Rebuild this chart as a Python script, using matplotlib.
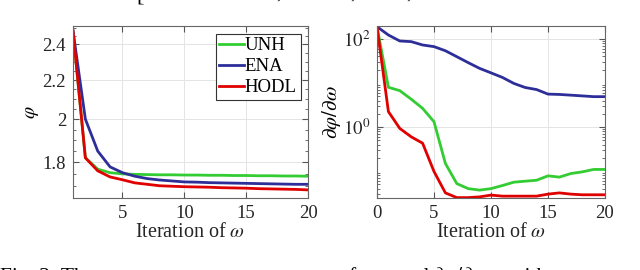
import matplotlib
matplotlib.use("Agg")
import matplotlib.pyplot as plt
from matplotlib.ticker import FixedLocator, FixedFormatter, LogLocator, NullFormatter, MultipleLocator

plt.rcParams["font.family"] = ["Liberation Serif", "DejaVu Serif"]
plt.rcParams["mathtext.fontset"] = "stix"

# left panel: phi vs iteration (1..20)
it_left = list(range(1, 21))
phi_unh = [2.48, 1.82, 1.77, 1.755, 1.75, 1.748, 1.747, 1.746, 1.746, 1.745,
           1.745, 1.744, 1.744, 1.743, 1.743, 1.742, 1.742, 1.741, 1.741, 1.74]
phi_ena = [2.48, 2.00, 1.85, 1.78, 1.755, 1.74, 1.73, 1.724, 1.72, 1.716,
           1.715, 1.713, 1.712, 1.711, 1.71, 1.709, 1.708, 1.707, 1.706, 1.706]
phi_hodl = [2.48, 1.82, 1.763, 1.737, 1.725, 1.712, 1.706, 1.70, 1.698, 1.696,
            1.695, 1.694, 1.692, 1.691, 1.69, 1.688, 1.687, 1.686, 1.685, 1.683]

# right panel: d phi / d omega vs iteration (0..20)
it_right = list(range(0, 21))
grad_unh = [190, 8.0, 6.7, 4.3, 2.66, 1.32, 0.149, 0.052, 0.040, 0.037, 0.040,
            0.047, 0.056, 0.059, 0.062, 0.078, 0.073, 0.088, 0.096, 0.109, 0.109]
grad_ena = [190, 123, 90, 87, 73, 67, 54, 39.6, 29, 21.5, 17,
            13.4, 9.8, 7.9, 7.1, 5.6, 5.5, 5.3, 5.1, 4.9, 4.9]
grad_hodl = [190, 2.24, 0.93, 0.60, 0.43, 0.098, 0.032, 0.025, 0.025, 0.026, 0.0285,
             0.027, 0.027, 0.027, 0.027, 0.030, 0.032, 0.030, 0.029, 0.029, 0.029]

labels = ["UNH", "ENA", "HODL"]
colors = ["#33cc33", "#2e2e99", "#e00000"]

# cropped caption fragments (only their tops show in the picture)
caption_parts = ["Fig. 2: The convergence curves", r"of $\varphi$", "and",
                 r"$\partial\varphi/\partial\omega$", "with", "respect"]
caption_x = [0, 338, 398, 432, 510, 590]

fig = plt.figure(figsize=(6.4, 2.7), dpi=100)
ax1 = fig.add_axes([73 / 640, 72 / 270, 235 / 640, 172 / 270])
ax2 = fig.add_axes([377 / 640, 72 / 270, 228 / 640, 172 / 270])

for ys, c, lab in zip([phi_unh, phi_ena, phi_hodl], colors, labels):
    ax1.plot(it_left, ys, color=c, lw=2, label=lab)
for ys, c in zip([grad_unh, grad_ena, grad_hodl], colors):
    ax2.plot(it_right, ys, color=c, lw=2)

ax1.set_yscale("log")
ax1.set_xlim(1, 20)
ax1.set_ylim(1.65, 2.51)
ax1.xaxis.set_major_locator(FixedLocator([5, 10, 15, 20]))
ax1.yaxis.set_major_locator(FixedLocator([1.8, 2.0, 2.2, 2.4]))
ax1.yaxis.set_major_formatter(FixedFormatter(["1.8", "2", "2.2", "2.4"]))
ax1.yaxis.set_minor_locator(MultipleLocator(0.05))
ax1.yaxis.set_minor_formatter(NullFormatter())
ax1.set_ylabel(r"$\varphi$", fontsize=14, labelpad=1)

ax2.set_yscale("log")
ax2.set_xlim(0, 20)
ax2.set_ylim(0.0245, 197)
ax2.xaxis.set_major_locator(FixedLocator([0, 5, 10, 15, 20]))
ax2.yaxis.set_major_locator(FixedLocator([1, 100]))
ax2.yaxis.set_major_formatter(FixedFormatter([r"$10^0$", r"$10^2$"]))
ax2.yaxis.set_minor_locator(LogLocator(base=10, subs=range(2, 10), numticks=20))
ax2.yaxis.set_minor_formatter(NullFormatter())
ax2.set_ylabel(r"$\partial\varphi/\partial\omega$", fontsize=15, labelpad=0)

for ax in (ax1, ax2):
    ax.set_xlabel(r"Iteration of $\omega$", fontsize=14.5, color="#262626", labelpad=1)
    ax.grid(True, which="major", color="#e4e4e4", lw=0.7)
    ax.tick_params(which="both", direction="in", top=True, right=True,
                   labelsize=13.5, labelcolor="#262626", color="#555555")
    ax.tick_params(which="major", length=4, pad=5)
    ax.tick_params(which="minor", length=2)
    for s in ax.spines.values():
        s.set_color("#666666")
        s.set_linewidth(0.8)

leg = ax1.legend(loc="upper right", fontsize=13.5, handlelength=1.3, handletextpad=0.05,
                 borderpad=0.2, labelspacing=0.2, borderaxespad=0.4, fancybox=False,
                 framealpha=1)
leg.get_frame().set_edgecolor("#333333")
leg.get_frame().set_linewidth(0.8)

# cropped text above the figure
fig.text(136 / 640, 1.0 + 14 / 270, "[", fontsize=16, va="top")
for xc in (276, 350, 406):
    fig.text(xc / 640, 1.0 + 2 / 270, ",", fontsize=15, va="baseline")

for part, xc in zip(caption_parts, caption_x):
    fig.text(xc / 640, -0.043, part, fontsize=15.5, va="baseline")

fig.savefig("out.png", dpi=100)
